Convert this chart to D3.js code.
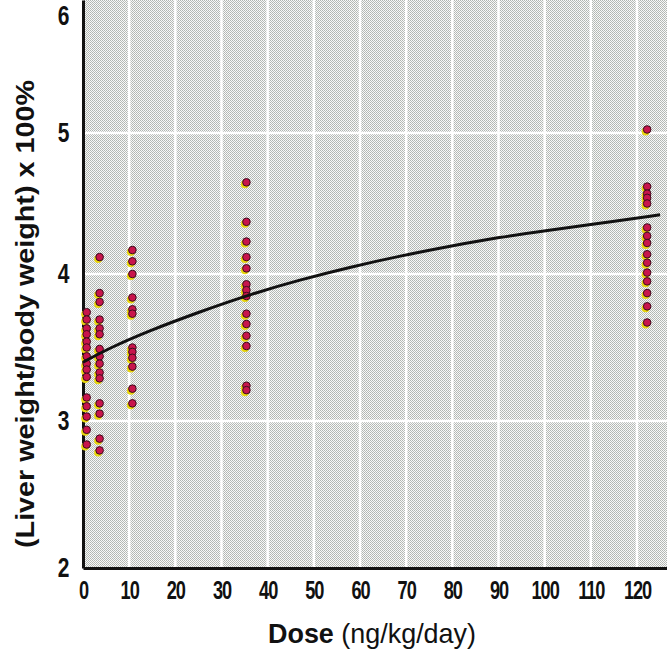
<!DOCTYPE html>
<html>
<head>
<meta charset="utf-8">
<script src="https://cdn.jsdelivr.net/npm/d3@7"></script>
<style>
  body { margin: 0; background: #fff; }
  text { font-family: "Liberation Sans", Arial, sans-serif; }
</style>
</head>
<body>
<div id="chart"></div>
<script>
// dose groups as plotted (ng/kg/day)
var doses = [0.8, 3.6, 10.7, 35.4, 122.2];

// liver weight / body weight x 100%, one array per dose group
var dose0 = [3.74, 3.69, 3.63, 3.59, 3.54, 3.50, 3.44, 3.39, 3.35, 3.30, 3.16, 3.10, 3.03, 2.94, 2.84];
var dose35 = [4.12, 3.87, 3.81, 3.69, 3.63, 3.59, 3.49, 3.44, 3.39, 3.33, 3.29, 3.12, 3.05, 2.88, 2.80];
var dose107 = [4.17, 4.09, 4.00, 3.84, 3.76, 3.73, 3.50, 3.47, 3.43, 3.37, 3.22, 3.12];
var dose357 = [4.65, 4.37, 4.23, 4.12, 4.04, 3.93, 3.89, 3.85, 3.73, 3.66, 3.58, 3.51, 3.24, 3.21];
var dose125 = [5.03, 4.62, 4.57, 4.54, 4.50, 4.33, 4.27, 4.22, 4.14, 4.08, 4.01, 3.95, 3.87, 3.78, 3.67];

// fitted curve
var curveX = [0, 6, 14, 25, 36, 47, 58, 69, 80, 90, 101, 112, 125];
var curveY = [3.40, 3.50, 3.61, 3.74, 3.86, 3.96, 4.05, 4.13, 4.20, 4.26, 4.31, 4.36, 4.42];

var xTicks = [0, 10, 20, 30, 40, 50, 60, 70, 80, 90, 100, 110, 120];
var yTicks = [2, 3, 4, 5, 6];

var width = 667, height = 650;

var svg = d3.select('#chart')
  .append('svg')
  .attr('width', width)
  .attr('height', height);

var x = d3.scaleLinear().domain([0, 126.5]).range([83, 667]);
// the printed figure is slightly uneven vertically, so a piecewise scale
var y = d3.scaleLinear().domain([2, 4, 5, 6.13]).range([568, 274, 133, 0]);

// halftone background
var defs = svg.append('defs');
var pat = defs.append('pattern')
  .attr('id', 'dots')
  .attr('width', 2)
  .attr('height', 2)
  .attr('patternUnits', 'userSpaceOnUse');
pat.append('rect').attr('width', 2).attr('height', 2).attr('fill', '#f8f9f8');
pat.append('rect').attr('x', 0).attr('y', 0).attr('width', 1).attr('height', 1).attr('fill', '#b0b5b1');
pat.append('rect').attr('x', 1).attr('y', 1).attr('width', 1).attr('height', 1).attr('fill', '#b9bdba');

svg.append('rect')
  .attr('x', x(0))
  .attr('y', y(6.13))
  .attr('width', x(126.5) - x(0))
  .attr('height', y(2) - y(6.13))
  .attr('fill', 'url(#dots)');

// white grid
svg.append('g')
  .selectAll('line')
  .data(xTicks.slice(1))
  .enter()
  .append('line')
  .attr('x1', function (d) { return x(d); })
  .attr('x2', function (d) { return x(d); })
  .attr('y1', y(6.13))
  .attr('y2', y(2))
  .attr('stroke', '#fff')
  .attr('stroke-width', 2.5);

svg.append('g')
  .selectAll('line')
  .data([3, 4, 5])
  .enter()
  .append('line')
  .attr('x1', x(0))
  .attr('x2', x(126.5))
  .attr('y1', function (d) { return y(d); })
  .attr('y2', function (d) { return y(d); })
  .attr('stroke', '#fff')
  .attr('stroke-width', 2.5);

// axes
var xAxis = svg.append('g')
  .attr('transform', 'translate(0,' + y(2) + ')')
  .call(d3.axisBottom(x).tickValues(xTicks).tickSize(0).tickPadding(13).tickSizeOuter(0));
xAxis.select('.domain').attr('stroke', '#111').attr('stroke-width', 3);
xAxis.selectAll('text')
  .attr('fill', '#111')
  .attr('transform', 'scale(0.7,1)')
  .style('font-size', '26px')
  .style('font-weight', 'bold')
  .style('letter-spacing', '-1.5px');

var yAxis = svg.append('g')
  .attr('transform', 'translate(' + x(0) + ',0)')
  .call(d3.axisLeft(y).tickValues(yTicks).tickFormat(d3.format('d')).tickSize(0).tickPadding(18).tickSizeOuter(0));
yAxis.select('.domain').attr('stroke', '#111').attr('stroke-width', 3);
yAxis.selectAll('text')
  .attr('fill', '#111')
  .attr('transform', 'scale(0.75,1)')
  .style('font-size', '28px')
  .style('font-weight', 'bold');

// axis titles
var xt = svg.append('text')
  .attr('x', 268)
  .attr('y', 643)
  .attr('textLength', 208)
  .attr('lengthAdjust', 'spacingAndGlyphs')
  .attr('fill', '#111')
  .style('font-size', '28px');
xt.append('tspan').style('font-weight', 'bold').text('Dose');
xt.append('tspan').text(' (ng/kg/day)');

svg.append('text')
  .attr('transform', 'translate(34,' + 314 + ') rotate(-90)')
  .attr('x', -234)
  .attr('textLength', 468)
  .attr('lengthAdjust', 'spacingAndGlyphs')
  .attr('fill', '#111')
  .style('font-size', '26px')
  .style('font-weight', 'bold')
  .text('(Liver weight/body weight) x 100%');

// points
var groups = [dose0, dose35, dose107, dose357, dose125];
var points = [];
groups.forEach(function (vals, i) {
  vals.forEach(function (v) { points.push({ dose: doses[i], value: v }); });
});

var pts = svg.append('g');
pts.selectAll('.shadow')
  .data(points)
  .enter()
  .append('circle')
  .attr('class', 'shadow')
  .attr('cx', function (d) { return x(d.dose) - 1.5; })
  .attr('cy', function (d) { return y(d.value) + 2; })
  .attr('r', 4)
  .style('fill', '#e9d60c');
pts.selectAll('.dot')
  .data(points)
  .enter()
  .append('circle')
  .attr('class', 'dot')
  .attr('cx', function (d) { return x(d.dose); })
  .attr('cy', function (d) { return y(d.value); })
  .attr('r', 3.8)
  .style('fill', '#c8154c')
  .style('stroke', '#3b0c1c')
  .style('stroke-width', 1);

// fitted curve
var line = d3.line()
  .x(function (d) { return x(d[0]); })
  .y(function (d) { return y(d[1]); })
  .curve(d3.curveBasis);

svg.append('path')
  .datum(d3.zip(curveX, curveY))
  .attr('d', line)
  .attr('fill', 'none')
  .attr('stroke', '#111')
  .attr('stroke-width', 3);
</script>
</body>
</html>
